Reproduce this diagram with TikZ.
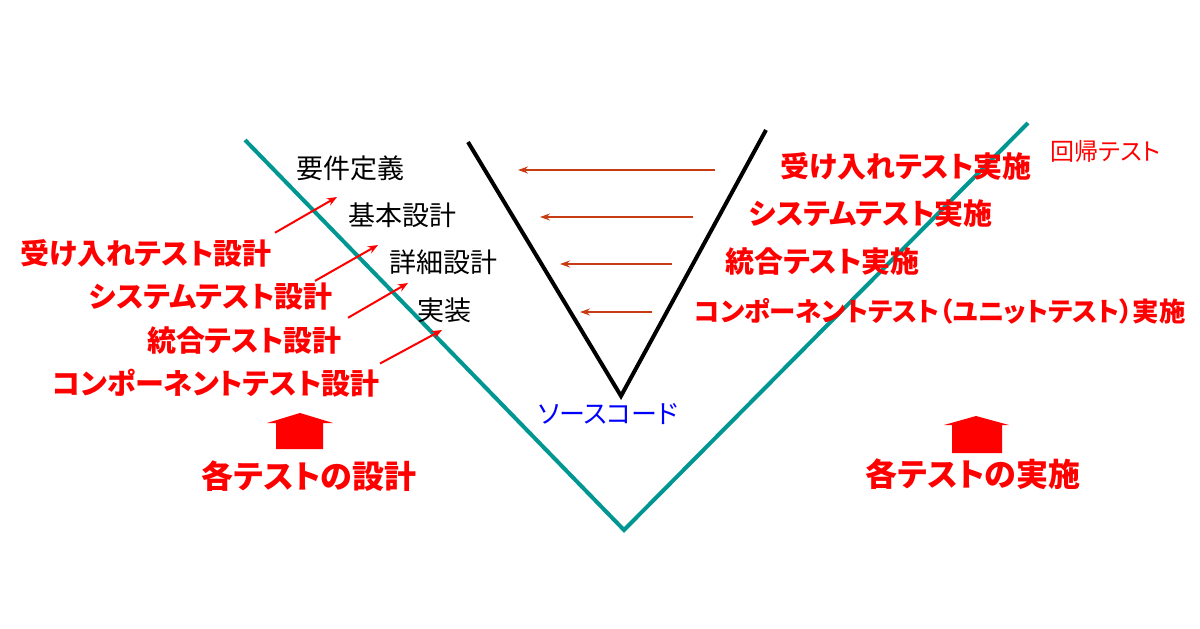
\documentclass[tikz,border=0pt]{standalone}
\usepackage{fontspec}
\usepackage{tikz}
\usepackage{xcolor}
\usetikzlibrary{arrows.meta}
\newfontfamily\jp[RawFeature=+palt]{Noto Sans CJK JP}
\definecolor{vteal}{RGB}{0,150,145}
\definecolor{backred}{RGB}{200,60,20}
\tikzset{
  phase/.style={font=\jp\fontsize{13.5pt}{16pt}\selectfont, inner sep=0pt},
  testlbl/.style={font=\jp\bfseries\fontsize{14.5pt}{17pt}\selectfont, text=red, inner sep=0pt},
  biglbl/.style={font=\jp\bfseries\fontsize{16pt}{19pt}\selectfont, text=red, inner sep=0pt},
  designarrow/.style={color=red, line width=1pt, -{Stealth[length=5pt,width=4pt]}},
  backarrow/.style={color=backred, line width=0.8pt, -{Stealth[length=5pt,width=3.5pt]}}
}
\begin{document}
\begin{tikzpicture}[x=0.5pt,y=-0.5pt]
            \clip (0,0) rectangle (1200,628);
            \fill[white] (0,0) rectangle (1200,628);

            % draw the two V lines
            \draw[color=vteal, line width=2pt] (245,140) -- (624,530) -- (1028,123);
            \draw[color=black, line width=2pt] (468,142) -- (621,396) -- (766,130);

            \node[phase] (req) at (350,168) {要件定義};
            \node[phase] (basic) at (402,215) {基本設計};
            \node[phase] (detail) at (443,262) {詳細設計};
            \node[phase] (impl) at (444,310) {実装};
            \node[font=\jp\fontsize{13pt}{15pt}\selectfont, text=blue, inner sep=0pt] (src) at (608,414) {ソースコード};

            \node[testlbl, anchor=east] (accd) at (272,253) {受け入れテスト設計};
            \node[testlbl, anchor=east] (sysd) at (333,297) {システムテスト設計};
            \node[testlbl, anchor=east] (intd) at (342,340) {統合テスト設計};
            \node[testlbl, anchor=east] (compd) at (380,383) {コンポーネントテスト設計};

            \node[testlbl, anchor=west] (acce) at (780,166) {受け入れテスト実施};
            \node[testlbl, anchor=west] (syse) at (749,214) {システムテスト実施};
            \node[testlbl, anchor=west] (inte) at (725,262) {統合テスト実施};
            \node[testlbl, font=\jp\bfseries\fontsize{13.2pt}{16pt}\selectfont, anchor=west] (compe) at (694,311) {コンポーネントテスト（ユニットテスト）実施};
            \node[font=\jp\fontsize{12pt}{14pt}\selectfont, text=red, inner sep=0pt, anchor=west] (regr) at (1050,151) {回帰テスト};

            % arrow ends
            \coordinate (accd-to) at (337,197);
            \coordinate (sysd-to) at (378,245);
            \coordinate (intd-to) at (408,283);
            \coordinate (compd-to) at (442,330);
            \coordinate (acce-to) at (518,170);
            \coordinate (syse-to) at (540,217);
            \coordinate (inte-to) at (560,264);
            \coordinate (compe-to) at (580,312);

            \draw[designarrow] ([shift={(3,-6)}]accd.north east) -- (accd-to);
            \draw[designarrow] ([shift={(-18,-2)}]sysd.north east) -- (sysd-to);
            \draw[designarrow] ([shift={(6,-8)}]intd.north east) -- (intd-to);
            \draw[designarrow] ([shift={(0,-5)}]compd.north east) -- (compd-to);

            \draw[backarrow] ([shift={(-65,4)}]acce.west) -- (acce-to);
            \draw[backarrow] ([shift={(-56,3)}]syse.west) -- (syse-to);
            \draw[backarrow] ([shift={(-53,2)}]inte.west) -- (inte-to);
            \draw[backarrow] ([shift={(-42,1)}]compe.west) -- (compe-to);

            % block arrows
            \fill[color=red] (267,423) -- (300,413) -- (333,423) -- (323,423) -- (323,449) -- (276,449) -- (276,423) -- cycle;
            \fill[color=red] (944,425) -- (976,416) -- (1009,425) -- (1002,425) -- (1002,453) -- (952,453) -- (952,425) -- cycle;

            \node[biglbl] (alldesign) at (309,476) {各テストの設計};
            \node[biglbl] (allexec) at (973,474) {各テストの実施};
        \end{tikzpicture}
\end{document}
